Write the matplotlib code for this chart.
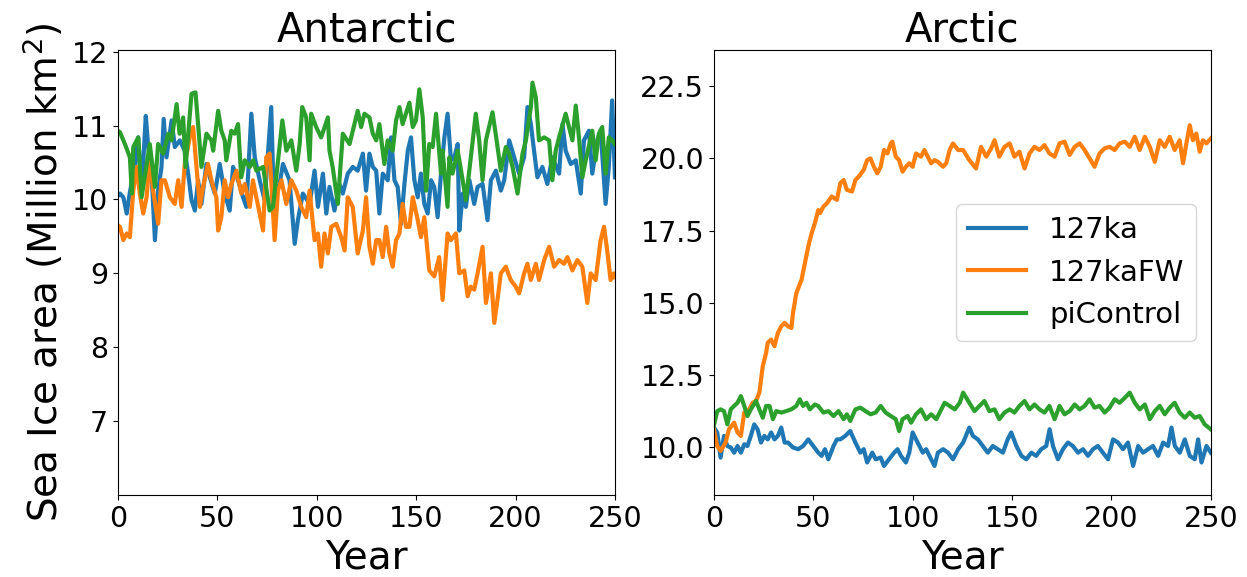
import numpy as np
import matplotlib
matplotlib.use('Agg')
import matplotlib.pyplot as plt

# Antarctic, 127ka
ant_ka_yr = [0, 1, 2.7, 4.4, 6, 8.5, 10.2, 11.9, 14, 15.2,
16.9, 18.6, 20.2, 21.9, 23, 24.4, 27, 28.6, 31.1, 33.6,
35.3, 37, 38.7, 40.3, 42, 44.5, 46.2, 48.7, 51.2, 53.7,
56.2, 57.9, 60.4, 62.9, 64.6, 67.1, 68.8, 71.3, 73.8, 77.1,
78, 79.7, 81.3, 83, 86.3, 88.9, 90.5, 93, 96.4, 98.9,
100.6, 103.1, 104.8, 106.4, 108.9, 111.4, 113.1, 115.6, 118.1, 120.6,
123.2, 124.8, 126.5, 128.2, 129.9, 131.5, 133.2, 135.7, 137.4, 139.1,
140.7, 142.4, 144.1, 145.8, 147.4, 149.1, 150.8, 152.4, 154.1, 155.8,
157.5, 159.1, 160.8, 162.5, 164.2, 165.8, 167.5, 169.2, 170.9, 171.7,
173.4, 175, 176.8, 179.2, 180.9, 183.4, 185.9, 187.6, 190.1, 192.6,
194.3, 196.8, 199.3, 201.8, 204.3, 206, 207.7, 209.3, 211, 213.5,
216, 218.5, 221.9, 223.6, 225.2, 227.8, 230.3, 232.8, 234.4, 236.9,
238.6, 241.1, 242.8, 245.3, 246.9, 248.6, 250]
ant_ka = [10.05, 10.08, 10.03, 9.81, 10.10, 10.44, 10.84, 10.12, 11.13, 10.71,
10.35, 9.45, 10.12, 10.44, 11.09, 10.57, 11.07, 10.71, 10.80, 10.66,
10.35, 9.99, 9.85, 10.26, 9.94, 10.48, 10.30, 10.08, 10.48, 10.08,
9.85, 10.44, 10.26, 10.03, 9.90, 11.16, 10.57, 10.26, 9.99, 11.25,
10.35, 10.12, 10.21, 10.48, 10.26, 9.40, 9.72, 10.08, 9.94, 10.39,
9.90, 10.35, 9.81, 10.17, 9.85, 10.21, 10.08, 10.35, 10.44, 10.39,
10.62, 10.12, 10.62, 10.44, 10.39, 9.81, 10.35, 10.26, 10.84, 10.26,
10.17, 9.67, 10.21, 10.66, 10.84, 10.26, 10.03, 10.35, 9.94, 9.81,
10.26, 10.17, 9.76, 10.35, 10.84, 11.16, 10.53, 10.57, 10.75, 9.58,
10.08, 9.90, 10.26, 9.94, 10.17, 10.21, 9.72, 10.26, 10.39, 10.12,
10.26, 10.80, 10.57, 10.35, 10.57, 11.25, 11.02, 10.66, 10.30, 10.44,
10.21, 10.57, 10.35, 11.02, 10.66, 10.48, 10.53, 10.08, 10.80, 10.93,
10.35, 10.80, 10.93, 9.94, 10.44, 11.34, 10.30]

# Antarctic, 127kaFW
ant_fw_yr = [0, 1, 2.7, 4.4, 6, 7.7, 9.4, 11, 12.7, 14.4,
16, 17.7, 20.2, 21.9, 23.6, 26.1, 28.6, 30.3, 32, 33.6,
36.1, 37.8, 39.5, 41.2, 42.8, 45.3, 47, 49.5, 50.4, 52,
53.7, 55.4, 57.1, 59.6, 62.1, 63.8, 66.3, 67.9, 69.6, 73,
74.6, 76.3, 78.8, 80.5, 82.2, 84.7, 87.2, 89.7, 92.2, 94.7,
96.4, 98.9, 100.6, 102.2, 103.9, 105.6, 107.3, 109.8, 112.3, 114,
115.6, 118.1, 120.6, 123.2, 124.8, 126.5, 128.2, 129.9, 131.5, 133.2,
134.9, 136.5, 138.2, 139.9, 141.6, 143.2, 144.9, 146.6, 148.3, 150.8,
152.4, 154.1, 156.6, 159.1, 161.6, 163.3, 165.8, 167.5, 170, 171.7,
174.2, 175.9, 177.5, 179.2, 180.9, 183.4, 185.1, 187.6, 189.3, 190.9,
192.6, 195.1, 197.6, 200.1, 201.8, 204.3, 206, 207.7, 210.2, 211.8,
214.4, 216.9, 219.4, 221.9, 224.4, 226.1, 228.6, 231.1, 233.6, 236.1,
237.8, 240.3, 242.8, 244.5, 246.1, 247.8, 249.5, 250]
ant_fw = [9.65, 9.63, 9.45, 9.54, 9.49, 10.12, 10.44, 10.08, 9.81, 10.03,
10.57, 10.12, 9.67, 10.26, 10.26, 10.03, 9.94, 10.26, 9.90, 10.48,
10.84, 10.98, 10.44, 9.90, 10.17, 10.48, 10.26, 10.03, 9.58, 9.76,
10.26, 10.03, 10.21, 10.39, 10.08, 10.21, 9.90, 10.26, 10.03, 9.58,
10.57, 10.62, 9.45, 10.12, 10.26, 9.94, 10.26, 10.12, 9.90, 9.76,
10.12, 9.45, 9.54, 9.09, 9.54, 9.27, 9.63, 9.67, 9.49, 9.31,
10.03, 9.90, 9.27, 9.58, 10.03, 9.36, 9.13, 9.45, 9.45, 9.22,
9.63, 9.27, 9.09, 9.45, 9.54, 9.94, 9.63, 9.63, 10.03, 9.72,
9.49, 9.76, 9.04, 8.96, 9.22, 8.64, 9.54, 9.45, 9.54, 9.00,
9.04, 8.69, 8.82, 8.78, 9.00, 9.36, 8.60, 9.00, 8.33, 8.64,
9.00, 9.09, 8.91, 8.82, 8.73, 9.00, 9.13, 8.91, 9.13, 8.91,
9.18, 9.36, 9.09, 9.18, 9.13, 9.22, 9.04, 9.18, 9.09, 8.60,
9.00, 8.91, 9.45, 9.63, 9.31, 8.91, 9.00, 8.95]

# Antarctic, piControl
ant_pi_yr = [0, 1, 3.5, 6, 7, 7.7, 10.2, 11.9, 16, 18.6,
20.2, 22.8, 25.3, 27, 29.5, 31, 32.8, 34, 37, 39,
40.3, 42, 44.5, 47, 47.9, 50.4, 52, 53.7, 54.5, 57,
58.7, 60.4, 62, 63.8, 66.3, 68, 69.6, 73, 76.3, 78,
82.7, 84.7, 87.2, 89.7, 91.4, 92.7, 94.7, 96.4, 97.2, 99.7,
102.2, 105.6, 106.4, 108, 110.6, 113.1, 116.5, 120.6, 122.3, 124,
126.5, 128.2, 129.9, 131.5, 134, 135.7, 138.2, 139.9, 141.6, 143.2,
146.6, 148.3, 149.9, 151.6, 153.3, 155, 156.6, 158.3, 160, 162.5,
163.3, 165.8, 166.7, 168.3, 170.9, 173.4, 175, 177.5, 180, 181.7,
183.4, 185.1, 188.4, 190, 192.6, 195.1, 196.8, 198.5, 201, 203.5,
205.2, 207.7, 208.5, 210.2, 211.8, 214.4, 216.9, 218.5, 220.2, 221.9,
225.2, 226.9, 228.6, 230.3, 231.9, 233.6, 235.3, 238.6, 240.3, 241.9,
243.6, 245.3, 246.9, 248.6, 250]
ant_pi = [10.93, 10.91, 10.75, 10.57, 10.08, 10.71, 10.84, 10.03, 10.75, 10.17,
10.75, 10.62, 10.89, 10.80, 11.29, 10.89, 11.11, 10.44, 11.43, 11.45,
11.02, 10.44, 10.89, 10.80, 10.66, 11.20, 10.93, 10.80, 10.53, 10.93,
10.89, 11.02, 10.30, 10.53, 10.44, 10.53, 10.39, 10.44, 9.85, 9.90,
11.07, 10.66, 10.80, 10.39, 10.75, 11.25, 11.11, 10.53, 11.16, 10.98,
10.84, 11.11, 10.66, 10.44, 9.94, 10.89, 10.75, 11.20, 10.98, 11.16,
11.11, 10.89, 10.80, 11.02, 10.48, 10.80, 10.66, 11.07, 11.25, 11.02,
11.31, 10.98, 11.07, 11.49, 11.11, 10.12, 10.75, 10.71, 11.16, 10.35,
10.66, 9.90, 10.57, 10.35, 10.66, 10.26, 9.99, 10.57, 11.16, 10.80,
10.26, 10.80, 11.18, 10.89, 10.39, 10.71, 10.62, 10.44, 10.08, 10.62,
10.80, 11.25, 11.58, 11.38, 10.80, 10.84, 10.80, 10.26, 10.66, 10.84,
11.16, 10.98, 10.80, 11.27, 10.84, 10.30, 10.53, 10.93, 10.53, 10.89,
10.98, 10.35, 10.84, 10.80, 10.75]

# Arctic, 127ka
arc_ka_yr = [0, 1.7, 3.4, 5.1, 6.8, 8.5, 10.2, 11.9, 13.6, 15.3,
16.9, 18.6, 20.3, 22, 23.7, 25.4, 27.1, 28.8, 30.5, 32.2,
33.9, 35.6, 37.3, 39.8, 42.4, 44.9, 47.5, 50, 52.5, 54.2,
55.9, 57.6, 60.2, 61.9, 63.6, 66.1, 68.6, 71.2, 73.7, 75.4,
77.1, 79.7, 81.4, 83.9, 85.6, 88.1, 90.7, 92.4, 94.1, 96.6,
98.3, 100, 101.7, 103.4, 105.1, 106.8, 109.3, 111, 112.7, 115.3,
117.8, 120.3, 122.9, 125.4,
128.5, 130.3, 132.8, 135.3, 137.8, 140.3, 142.8, 145.4, 147.8, 149.6,
152.2, 154.7, 157.2, 159.7, 162.1, 164.7, 167.2, 168.9, 170.6, 173.1,
175.6, 178.1, 180.6, 183.2, 185.7, 188.2, 190.7, 193.2, 195.7, 198.3,
200.8, 203.3, 205.8, 208.3, 210.9, 213.4, 215.9, 218.4, 220.9, 223.5,
226, 228.5, 230.2, 231.9, 234.4, 236.9, 239.4, 241.9, 243.6, 245.3,
247.8, 250]
arc_ka = [10.67, 10.50, 9.63, 10.38, 10.03, 9.98, 9.80, 10.03, 9.80, 10.09,
10.03, 10.38, 10.78, 10.61, 10.15, 10.38, 10.26, 10.50, 10.26, 10.38,
10.67, 10.15, 10.15, 9.98, 9.92, 10.03, 10.26, 10.03, 9.80, 9.69,
9.92, 9.57, 10.03, 10.26, 10.26, 10.38, 10.55, 10.15, 9.80, 9.92,
9.46, 9.80, 9.57, 9.63, 9.34, 9.57, 9.80, 9.92, 9.69, 9.46,
9.80, 10.50, 10.26, 10.03, 9.80, 9.92, 9.57, 9.34, 9.80, 9.92,
9.80, 9.57, 9.92, 10.15,
10.67, 10.38, 10.26, 10.03, 9.80, 10.03, 9.92, 9.80, 10.26, 10.50,
10.03, 9.69, 9.57, 9.80, 9.69, 9.92, 10.03, 10.61, 10.03, 9.57,
9.92, 10.15, 10.03, 9.80, 9.92, 9.69, 9.92, 10.03, 9.80, 9.57,
10.26, 10.15, 9.92, 10.15, 9.34, 10.03, 9.80, 9.92, 10.03, 9.69,
10.15, 10.03, 10.67, 10.03, 9.80, 10.26, 9.69, 9.57, 10.26, 9.46,
10.03, 9.80]

# Arctic, 127kaFW
arc_fw_yr = [0, 1.7, 3.4, 5.9, 7.6, 10.2, 11.9, 13.6, 15.3, 17.8,
19.5, 21.2, 22.9, 24.6, 26.3, 27.1, 28.8, 30.5, 32.2, 33.9,
35.6, 37.3, 39, 39.8, 41.5, 44.1, 45.8, 47.5, 49.2, 50.8,
52.5, 53.4, 55.1, 56.8, 59.3, 61.9, 63.6, 65.3, 66.9, 69.5,
71.2, 72.9, 75.4, 77.1, 78.8, 80.5, 82.2, 83.9, 85.6, 87.3,
89, 89.8, 91.5, 93.2, 94.9, 96.6, 98.3, 100, 101.7, 104.2,
105.9, 107.6, 109.3, 111, 112.7, 115.3, 116.9, 118.6, 120.3, 122.9,
125.4,
128.5, 131.9, 134.4, 137, 139.5, 141.2, 143.6, 146.2, 148.8, 151.2,
153.7, 156.3, 158.8, 161.3, 163.8, 166.3, 168.8, 171.4, 173.9, 176.4,
179, 181.5, 184, 186.5, 189, 191.5, 194, 196.6, 199.1, 201.6,
204.1, 206.7, 209.2, 211.7, 214.2, 216.8, 219.3, 221.8, 224.3, 226.8,
229.3, 231.8, 234.3, 236, 237.7, 239.4, 241, 242.7, 244.4, 246,
247.8, 250]
arc_fw = [10.61, 10.03, 9.86, 10.15, 10.61, 10.84, 10.50, 10.38, 11.19, 11.30,
11.53, 11.59, 11.88, 12.80, 13.26, 13.61, 13.72, 13.49, 13.95, 14.18,
14.30, 14.18, 14.12, 14.64, 15.33, 15.79, 16.37, 16.95, 17.41, 17.75,
18.21, 18.10, 18.33, 18.44, 18.68, 18.56, 19.14, 19.25, 18.91, 18.85,
19.25, 19.37, 19.60, 19.94, 20.00, 19.71, 19.48, 19.71, 20.29, 20.17,
20.52, 20.58, 20.06, 19.94, 19.54, 19.71, 19.83, 19.71, 20.17, 20.06,
20.29, 20.06, 19.83, 19.94, 19.88, 19.71, 19.83, 20.29, 20.52, 20.29,
20.29,
19.94, 19.65, 20.40, 20.06, 20.35, 20.63, 20.06, 20.40, 20.52, 20.06,
20.23, 19.65, 20.17, 20.40, 20.29, 20.46, 20.17, 20.06, 20.52, 20.58,
20.12, 20.40, 20.52, 20.29, 20.00, 19.71, 20.17, 20.35, 20.40, 20.29,
20.52, 20.58, 20.40, 20.75, 20.29, 20.75, 20.40, 19.88, 20.63, 20.40,
20.75, 20.29, 20.63, 19.83, 20.52, 21.15, 20.63, 20.86, 20.23, 20.63,
20.52, 20.69]

# Arctic, piControl
arc_pi_yr = [0, 1.7, 3.4, 5.1, 6.8, 8.5, 10.2, 11.9, 13.6, 15.3,
16.9, 18.6, 21.2, 22.9, 24.6, 26.3, 28, 29.7, 31.4, 33.9,
36.4, 38.9, 41.5, 43.2, 44.9, 46.6, 48.3, 50.8, 52.5, 55.1,
57.6, 60.2, 62.7, 65.3, 66.9, 68.6, 71.2, 73.7, 76.3, 78.8,
81.4, 83.9, 86.4, 89, 91.5, 93.2, 94.9, 97.5, 99.2, 101.7,
104.2, 106.8, 109.3, 111.9, 113.6, 116.1, 118.6, 121.2, 123.7, 125.4,
128.5, 131.1, 133.6, 136.1, 138.6, 141.2, 143.6, 146.2, 148.8, 151.2,
153.7, 156.3, 158.8, 161.3, 163.8, 166.3, 168.8, 171.4, 173.9, 176.4,
179, 181.5, 184, 186.5, 189, 191.5, 194, 196.6, 199.1, 201.6,
204.1, 206.7, 209.2, 211.7, 214.2, 216.8, 219.3, 221.8, 224.3, 226.8,
229.3, 231.8, 234.3, 236.9, 239.4, 241.9, 244.4, 246.9, 250]
arc_pi = [10.73, 11.24, 11.30, 11.24, 10.78, 11.30, 11.42, 11.53, 11.76, 11.42,
11.07, 11.30, 11.59, 11.30, 11.01, 11.42, 11.42, 10.96, 11.24, 11.19,
11.24, 11.30, 11.42, 11.65, 11.42, 11.53, 11.30, 11.47, 11.42, 11.19,
11.24, 11.07, 11.24, 10.96, 11.13, 10.90, 11.30, 11.36, 11.24, 11.13,
11.19, 11.42, 11.19, 11.07, 10.96, 10.55, 10.96, 11.07, 10.84, 11.13,
11.30, 10.96, 11.13, 10.96, 11.19, 11.53, 11.42, 11.30, 11.53, 11.88,
11.53, 11.24, 11.42, 11.59, 11.24, 11.30, 10.96, 11.19, 11.30, 11.19,
11.42, 11.59, 11.30, 11.47, 11.30, 11.19, 11.42, 10.96, 11.42, 11.13,
11.24, 11.47, 11.30, 11.42, 11.65, 11.36, 11.42, 11.19, 11.36, 11.65,
11.53, 11.70, 11.88, 11.53, 11.30, 11.47, 10.96, 11.24, 11.42, 11.13,
11.36, 11.53, 11.19, 11.01, 11.19, 11.01, 11.07, 10.78, 10.61]

labels = ['127ka', '127kaFW', 'piControl']

fig = plt.figure(figsize=(12.47, 5.77), dpi=100)
fig.subplots_adjust(left=0.0946, right=0.971, bottom=0.142, top=0.913, wspace=0.199)

ax1 = fig.add_subplot(121)
ax1.plot(ant_ka_yr, ant_ka, lw=3, label=labels[0])
ax1.plot(ant_fw_yr, ant_fw, lw=3, label=labels[1])
ax1.plot(ant_pi_yr, ant_pi, lw=3, label=labels[2])
ax1.set_xlim(0, 250)
ax1.set_ylim(6.0, 12.02)
ax1.set_yticks([7, 8, 9, 10, 11, 12])
ax1.set_xticks([0, 50, 100, 150, 200, 250])
ax1.set_title('Antarctic', fontsize=29)
ax1.set_xlabel('Year', fontsize=28)
ax1.set_ylabel('Sea Ice area (Million km$^2$)', fontsize=28)
ax1.tick_params(labelsize=20.5)

ax2 = fig.add_subplot(122)
ax2.plot(arc_ka_yr, arc_ka, lw=3, label=labels[0])
ax2.plot(arc_fw_yr, arc_fw, lw=3, label=labels[1])
ax2.plot(arc_pi_yr, arc_pi, lw=3, label=labels[2])
ax2.set_xlim(0, 250)
ax2.set_ylim(8.33, 23.75)
ax2.set_yticks([10.0, 12.5, 15.0, 17.5, 20.0, 22.5])
ax2.set_xticks([0, 50, 100, 150, 200, 250])
ax2.set_title('Arctic', fontsize=29)
ax2.set_xlabel('Year', fontsize=28)
ax2.tick_params(labelsize=20.5)
ax2.legend(loc='center right', fontsize=21)

fig.savefig('out.png', dpi=100)
